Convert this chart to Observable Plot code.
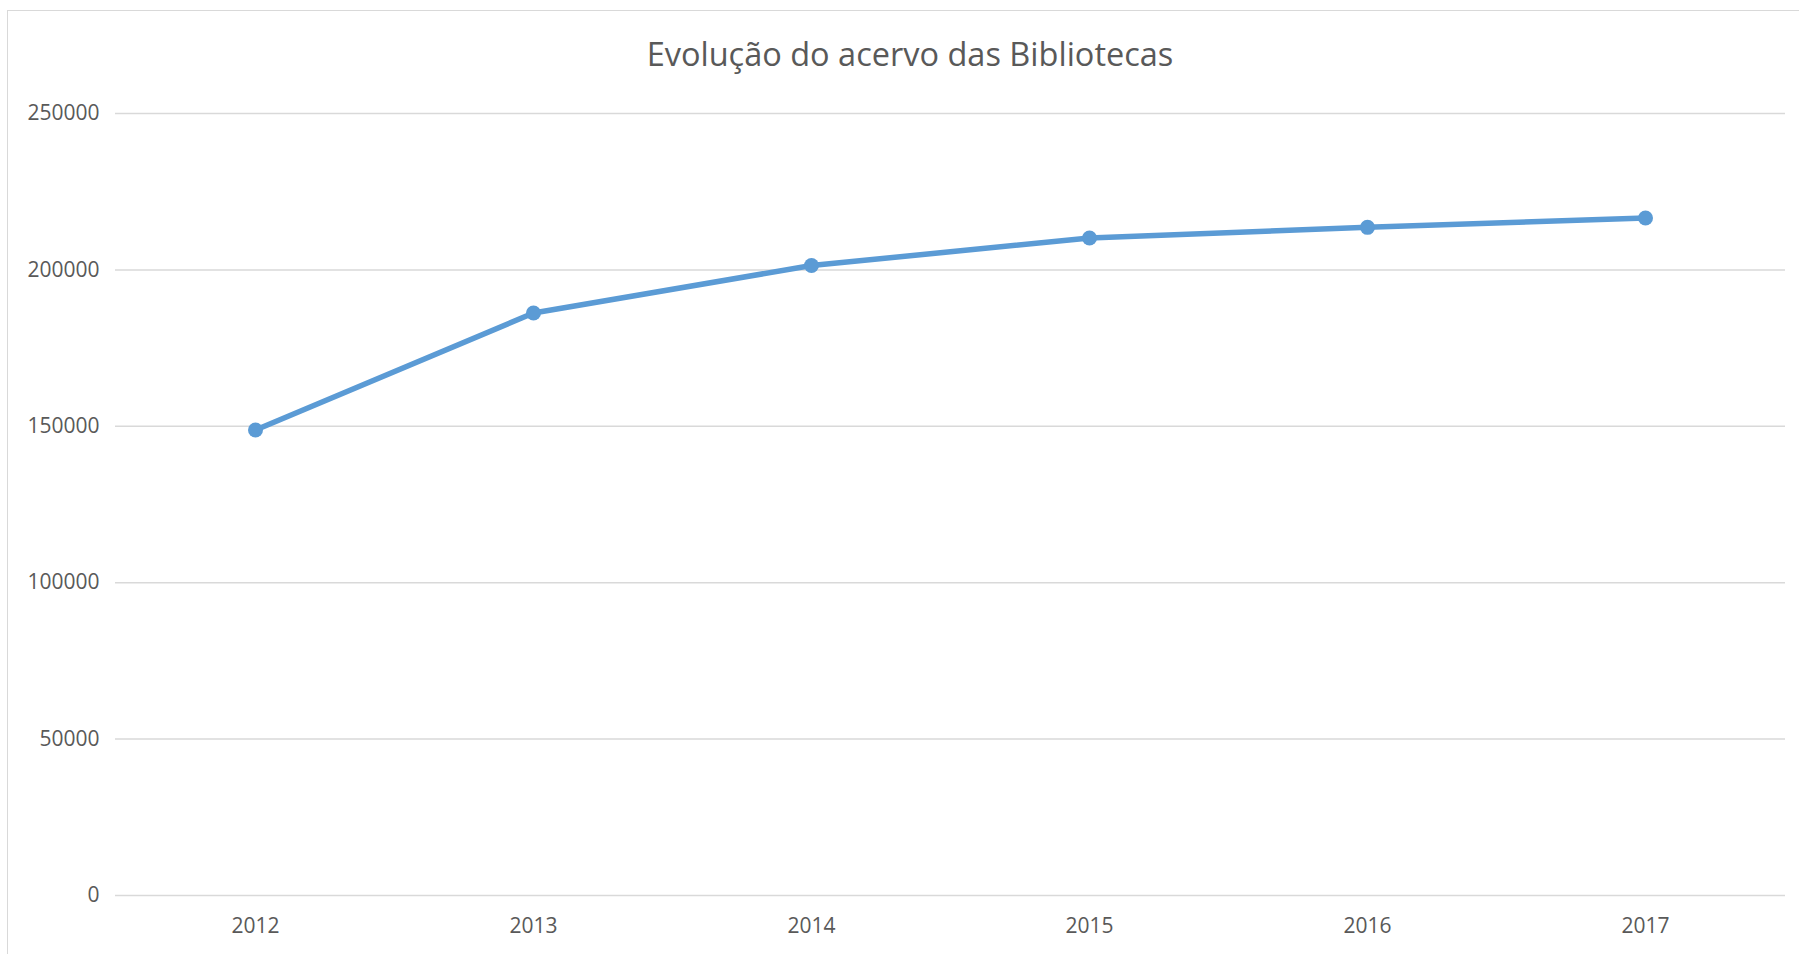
<!DOCTYPE html>
<html>
<head>
<meta charset="utf-8">
<script src="https://cdn.jsdelivr.net/npm/d3@7"></script>
<script src="https://cdn.jsdelivr.net/npm/@observablehq/plot@0.6"></script>
<style>
  html, body { margin: 0; padding: 0; background: #fff; }
  #wrap { position: relative; width: 1799px; height: 954px; overflow: hidden; background: #fff; font-family: "Open Sans", sans-serif; }
  #frame { position: absolute; left: 7px; top: 10px; width: 1820px; height: 980px; border: 1.5px solid #d9d9d9; box-sizing: border-box; }
  #title { position: absolute; left: 0; width: 1820px; top: 34px; text-align: center; font-size: 32.5px; color: #595959; line-height: 40px; }
  #chart { position: absolute; left: 0; top: 80px; }
</style>
</head>
<body>
<div id="wrap">
  <div id="frame"></div>
  <div id="title">Evolução do acervo das Bibliotecas</div>
  <div id="chart"></div>
</div>
<script>
const years = ["2012", "2013", "2014", "2015", "2016", "2017"];
const acervo = [148800, 186200, 201400, 210200, 213600, 216600];
const yTicks = [0, 50000, 100000, 150000, 200000, 250000];

const data = years.map((y, i) => ({year: y, value: acervo[i]}));

const chart = Plot.plot({
  width: 1799,
  height: 874,
  marginLeft: 115,
  marginRight: 14,
  marginTop: 33,
  marginBottom: 59,
  style: {fontFamily: "'Open Sans', sans-serif", fontSize: "21px", color: "#595959", background: "transparent"},
  x: {type: "point", domain: years, padding: 0.5, label: null},
  y: {domain: [0, 250000], label: null},
  marks: [
    Plot.ruleY(yTicks, {stroke: "#d9d9d9", strokeWidth: 1.5}),
    Plot.axisY(yTicks, {tickSize: 0, tickPadding: 16, tickFormat: d => String(d), fill: "#595959", fontSize: 21, label: null}),
    Plot.axisX(years, {tickSize: 0, tickPadding: 23, fill: "#595959", fontSize: 21, label: null}),
    Plot.line(data, {x: "year", y: "value", stroke: "#5b9bd5", strokeWidth: 5.5, strokeLinejoin: "round", strokeLinecap: "round"}),
    Plot.dot(data, {x: "year", y: "value", r: 7.5, fill: "#5b9bd5", stroke: "none"})
  ]
});
document.getElementById("chart").appendChild(chart);
</script>
</body>
</html>
